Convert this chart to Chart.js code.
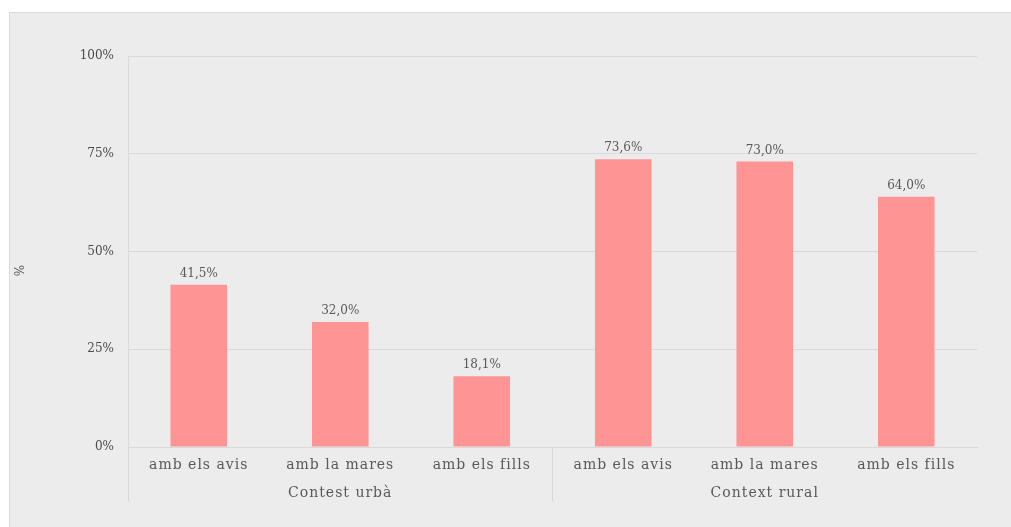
<!DOCTYPE html>
<html>
<head>
<meta charset="utf-8">
<script src="https://cdn.jsdelivr.net/npm/chart.js@4"></script>
<style>
  html, body { margin: 0; padding: 0; background: #ffffff; }
  #panel { position: absolute; left: 9px; top: 12px; width: 1002px; height: 515px;
           background: #ececec; border-top: 1px solid #dadada; border-left: 1px solid #dadada; box-sizing: border-box; }
  #wrap { position: absolute; left: 0; top: 0; width: 1001px; height: 514px; }
</style>
</head>
<body>
<div id="panel"><div id="wrap"><canvas id="c"></canvas></div></div>
<script>
// ---- data ----
const categories = ['amb els avis', 'amb la mares', 'amb els fills', 'amb els avis', 'amb la mares', 'amb els fills'];
const groups = ['Contest urbà', 'Context rural'];
const values = [41.5, 32.0, 18.1, 73.6, 73.0, 64.0];
const yTicks = [0, 25, 50, 75, 100];
const yTitle = '%          ';

const textColor = '#595959';
const gridColor = '#d9d9d9';
const serif = "'DejaVu Serif', 'Liberation Serif', serif";

function spaced(scale, px) {
  if (scale._spacedPatched) return;
  scale._spacedPatched = true;
  const orig = scale.drawLabels;
  scale.drawLabels = function (ca) {
    const ctx = this.ctx;
    ctx.save();
    ctx.letterSpacing = px;
    orig.call(this, ca);
    ctx.restore();
  };
}

const valueLabels = {
  id: 'valueLabels',
  afterDatasetsDraw(chart) {
    const ctx = chart.ctx;
    const meta = chart.getDatasetMeta(0);
    ctx.save();
    ctx.font = "12px " + serif;
    ctx.fillStyle = textColor;
    ctx.textAlign = 'center';
    ctx.textBaseline = 'bottom';
    meta.data.forEach((bar, i) => {
      const txt = values[i].toFixed(1).replace('.', ',') + '%';
      ctx.fillText(txt, bar.x, bar.y - 5);
    });
    ctx.restore();
  }
};

new Chart(document.getElementById('c'), {
  type: 'bar',
  data: {
    labels: categories,
    datasets: [{
      data: values,
      backgroundColor: '#ff9494',
      borderWidth: 0,
      barPercentage: 0.4,
      categoryPercentage: 1.0
    }]
  },
  plugins: [valueLabels],
  options: {
    responsive: true,
    maintainAspectRatio: false,
    animation: false,
    layout: { padding: { left: 0, top: 43, right: 34, bottom: 0 } },
    plugins: { legend: { display: false }, tooltip: { enabled: false } },
    scales: {
      x: {
        type: 'category',
        position: 'bottom',
        offset: true,
        grid: {
          display: true,
          drawOnChartArea: false,
          offset: true,
          tickLength: 55,
          color: (c) => (c.index % 3 === 0 ? gridColor : 'rgba(0,0,0,0)'),
          lineWidth: 1
        },
        border: { display: true, color: gridColor },
        ticks: { color: textColor, font: { family: serif, size: 14 }, padding: -45, maxRotation: 0, autoSkip: false },
        afterFit: (s) => { s.height = 35; spaced(s, '1px'); }
      },
      x2: {
        type: 'category',
        position: 'bottom',
        labels: groups,
        offset: true,
        grid: { display: false },
        border: { display: false },
        ticks: { color: textColor, font: { family: serif, size: 14 }, padding: -5, maxRotation: 0 },
        afterFit: (s) => { s.height = 45; spaced(s, '1px'); }
      },
      y: {
        min: 0,
        max: 100,
        afterBuildTicks: (s) => { s.ticks = yTicks.map(v => ({ value: v })); },
        grid: { color: gridColor, drawTicks: false },
        border: { display: true, color: gridColor },
        ticks: {
          color: '#4a4a4a',
          font: { family: serif, size: 12 },
          padding: 14,
          callback: (v) => v + '%'
        },
        title: { display: true, text: yTitle, color: textColor, font: { family: serif, size: 12 }, padding: 4 },
        afterFit: (s) => { s.width = 118; }
      }
    }
  }
});
</script>
</body>
</html>
